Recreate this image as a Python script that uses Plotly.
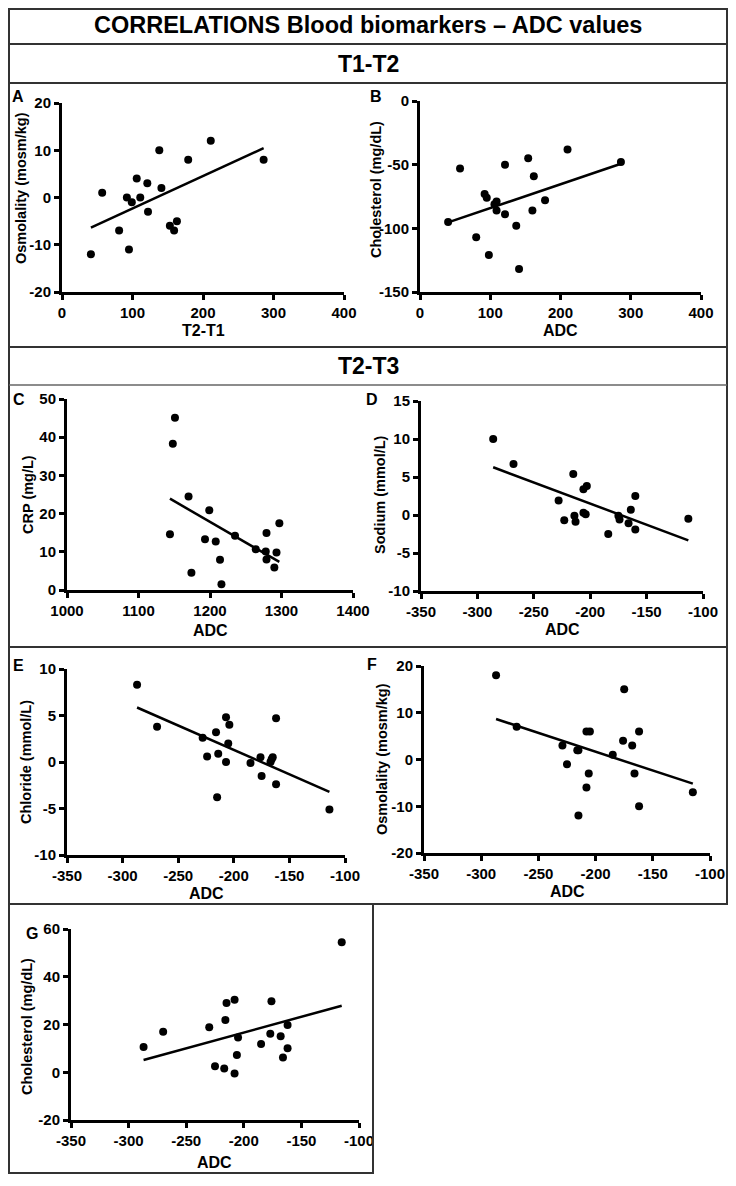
import numpy as np
import plotly.graph_objects as go

# Page is 736x1186; the html body keeps an 8px margin, so the figure is
# drawn 8px in from the top-left corner and kept 16px smaller.
OFF = 8
W, H = 736 - 2 * OFF, 1186 - 2 * OFF

# ---- data ----
# T1-T2
a_x = [41, 57, 81, 92, 95, 99, 106, 111, 121, 122, 138, 141, 153, 159, 163, 179, 211, 286]
a_y = [-12, 1, -7, 0, -11, -1, 4, 0, 3, -3, 10, 2, -6, -7, -5, 8, 12, 8]

b_x = [40, 57, 80, 92, 95, 98, 106, 109, 109, 121, 121, 137, 141, 154, 160, 162, 178, 210, 286]
b_y = [-95, -53, -107, -73, -76, -121, -81, -79, -86, -50, -89, -98, -132, -45, -86, -59, -78, -38, -48]

# T2-T3
c_x = [1144, 1148, 1151, 1170, 1174, 1193, 1199, 1208, 1214, 1216, 1235, 1264, 1278, 1279, 1279, 1290, 1293, 1297]
c_y = [14.6, 38.3, 45.1, 24.5, 4.5, 13.3, 20.9, 12.7, 7.9, 1.5, 14.2, 10.7, 10.1, 8.0, 14.9, 5.9, 9.8, 17.5]

d_x = [-286, -268, -228, -223, -215, -214, -213, -206, -203, -206, -204, -184, -175, -174, -166, -164, -160, -160, -113]
d_y = [10.0, 6.7, 1.9, -0.7, 5.4, -0.1, -0.9, 3.4, 3.8, 0.3, 0.1, -2.5, -0.1, -0.6, -1.1, 0.7, 2.5, -1.9, -0.5]

e_x = [-287, -269, -228, -224, -216, -214, -215, -207, -207, -205, -204, -185, -176, -175, -167, -166, -165, -162, -162, -114]
e_y = [8.3, 3.8, 2.6, 0.6, 3.2, 0.9, -3.8, 0.0, 4.8, 2.0, 4.0, -0.1, 0.5, -1.5, 0.0, 0.3, 0.5, 4.7, -2.4, -5.1]

f_x = [-287, -269, -229, -225, -216, -215, -215, -208, -205, -208, -206, -185, -176, -175, -168, -166, -162, -162, -115]
f_y = [18, 7, 3, -1, 2, 2, -12, 6, 6, -6, -3, 1, 4, 15, 3, -3, 6, -10, -7]

g_x = [-287, -270, -230, -225, -217, -216, -215, -208, -208, -206, -205, -185, -177, -176, -168, -166, -162, -162, -115]
g_y = [10.6, 17.0, 18.8, 2.5, 1.6, 21.9, 29.0, 30.4, -0.5, 7.2, 14.6, 11.8, 16.1, 29.7, 15.1, 6.2, 10.1, 19.8, 54.4]

# tick values per axis
ticks_t1t2 = [0, 100, 200, 300, 400]
ticks_adc_abs = [1000, 1100, 1200, 1300, 1400]
ticks_adc_diff = [-350, -300, -250, -200, -150, -100]
yt_a = [-20, -10, 0, 10, 20]
yt_b = [-150, -100, -50, 0]
yt_c = [0, 10, 20, 30, 40, 50]
yt_d = [-10, -5, 0, 5, 10, 15]
yt_e = [-10, -5, 0, 5, 10]
yt_f = [-20, -10, 0, 10, 20]
yt_g = [-20, 0, 20, 40, 60]

FONT = "Arial, Liberation Sans, sans-serif"


def px(x, y):
    # page pixel position -> paper coords (clamped to the figure)
    fx = min(max(x - OFF, 1), W - 1)
    fy = min(max(y - OFF, 1), H - 1)
    return fx / W, 1 - fy / H


# panel: letter, data, ticks, pixel box of the plot area (page px), labels and positions
panels = [
    dict(letter="A", x=a_x, y=a_y, xt=ticks_t1t2, yt=yt_a, box=(62, 344, 103, 292),
         xlab="T2-T1", ylab="Osmolality (mosm/kg)", lp=(18, 97), yl=(21, 188), xl=330),
    dict(letter="B", x=b_x, y=b_y, xt=ticks_t1t2, yt=yt_b, box=(420, 701, 101, 292),
         xlab="ADC", ylab="Cholesterol (mg/dL)", lp=(376, 97), yl=(376, 190), xl=330),
    dict(letter="C", x=c_x, y=c_y, xt=ticks_adc_abs, yt=yt_c, box=(67, 353, 399, 590),
         xlab="ADC", ylab="CRP (mg/L)", lp=(19, 400), yl=(28, 495), xl=630),
    dict(letter="D", x=d_x, y=d_y, xt=ticks_adc_diff, yt=yt_d, box=(421, 703, 401, 591),
         xlab="ADC", ylab="Sodium (mmol/L)", lp=(372, 400), yl=(380, 495), xl=629),
    dict(letter="E", x=e_x, y=e_y, xt=ticks_adc_diff, yt=yt_e, box=(67, 345, 669, 855),
         xlab="ADC", ylab="Chloride (mmol/L)", lp=(18, 665), yl=(26, 762), xl=893),
    dict(letter="F", x=f_x, y=f_y, xt=ticks_adc_diff, yt=yt_f, box=(424, 710, 666, 853),
         xlab="ADC", ylab="Osmolality (mosm/kg)", lp=(372, 664), yl=(382, 759), xl=891),
    dict(letter="G", x=g_x, y=g_y, xt=ticks_adc_diff, yt=yt_g, box=(71, 359, 929, 1120),
         xlab="ADC", ylab="Cholesterol (mg/dL)", lp=(32, 933), yl=(27, 1027), xl=1162),
]

fig = go.Figure()
annotations = []
layout_axes = {}


def note(x, y, text, size, angle=0):
    px_, py_ = px(x, y)
    annotations.append(dict(x=px_, y=py_, xref="paper", yref="paper", text=f"<b>{text}</b>",
                            textangle=angle, showarrow=False, xanchor="center",
                            yanchor="middle",
                            font=dict(family=FONT, size=size, color="black")))


for i, p in enumerate(panels, start=1):
    xa = "x" if i == 1 else f"x{i}"
    ya = "y" if i == 1 else f"y{i}"

    # scatter points
    fig.add_trace(go.Scatter(x=p["x"], y=p["y"], mode="markers", xaxis=xa, yaxis=ya,
                             marker=dict(color="black", size=8), showlegend=False,
                             cliponaxis=False))

    # least-squares line over the data span
    slope, icpt = np.polyfit(p["x"], p["y"], 1)
    lx = np.array([min(p["x"]), max(p["x"])])
    fig.add_trace(go.Scatter(x=lx, y=slope * lx + icpt, mode="lines", xaxis=xa, yaxis=ya,
                             line=dict(color="black", width=2.5), showlegend=False))

    x0, x1, y0, y1 = p["box"]
    dx0, dy1 = px(x0, y1)
    dx1, dy0 = px(x1, y0)
    axis_common = dict(showline=True, linecolor="black", linewidth=3, ticks="outside",
                       ticklen=5, tickwidth=3, tickcolor="black", showgrid=False,
                       zeroline=False, automargin=False,
                       tickfont=dict(family=FONT, size=15, color="black"))
    layout_axes["xaxis" if i == 1 else f"xaxis{i}"] = dict(
        axis_common, domain=[dx0, dx1], anchor=ya,
        range=[p["xt"][0], p["xt"][-1]], tickvals=p["xt"],
        ticktext=[f"<b>{v}</b>" for v in p["xt"]])
    layout_axes["yaxis" if i == 1 else f"yaxis{i}"] = dict(
        axis_common, domain=[dy1, dy0], anchor=xa,
        range=[p["yt"][0], p["yt"][-1]], tickvals=p["yt"],
        ticktext=[f"<b>{v}</b>" for v in p["yt"]])

    # panel letter, axis titles
    note(*p["lp"], p["letter"], 16)
    note(*p["yl"], p["ylab"], 14.5, angle=-90)
    note((x0 + x1) / 2, p["xl"], p["xlab"], 16)

# header texts
note(368, 25, "CORRELATIONS Blood biomarkers \u2013 ADC values", 23.5)
note(368, 64, "T1-T2", 23)
note(368, 366, "T2-T3", 23)

# frame boxes and separators
shapes = []


def rect(x0, y0, x1, y1, color="#333", width=2):
    a, b = px(x0, y0)
    c, d = px(x1, y1)
    shapes.append(dict(type="rect", xref="paper", yref="paper", x0=a, y0=d, x1=c, y1=b,
                       line=dict(color=color, width=width)))


def hline(x0, x1, y, color="#333", width=2):
    a, b = px(x0, y)
    c, _ = px(x1, y)
    shapes.append(dict(type="line", xref="paper", yref="paper", x0=a, y0=b, x1=c, y1=b,
                       line=dict(color=color, width=width)))


rect(7, 6, 729, 347)
hline(7, 729, 44)
hline(7, 729, 83)
rect(7, 347, 729, 647)
hline(7, 729, 385, color="#666", width=1.5)
rect(7, 647, 729, 904)
rect(7, 904, 373, 1173)

fig.update_layout(width=W, height=H, margin=dict(l=0, r=0, t=0, b=0, autoexpand=False),
                  paper_bgcolor="white", plot_bgcolor="white",
                  annotations=annotations, shapes=shapes, **layout_axes)

fig.write_html("out.html")
